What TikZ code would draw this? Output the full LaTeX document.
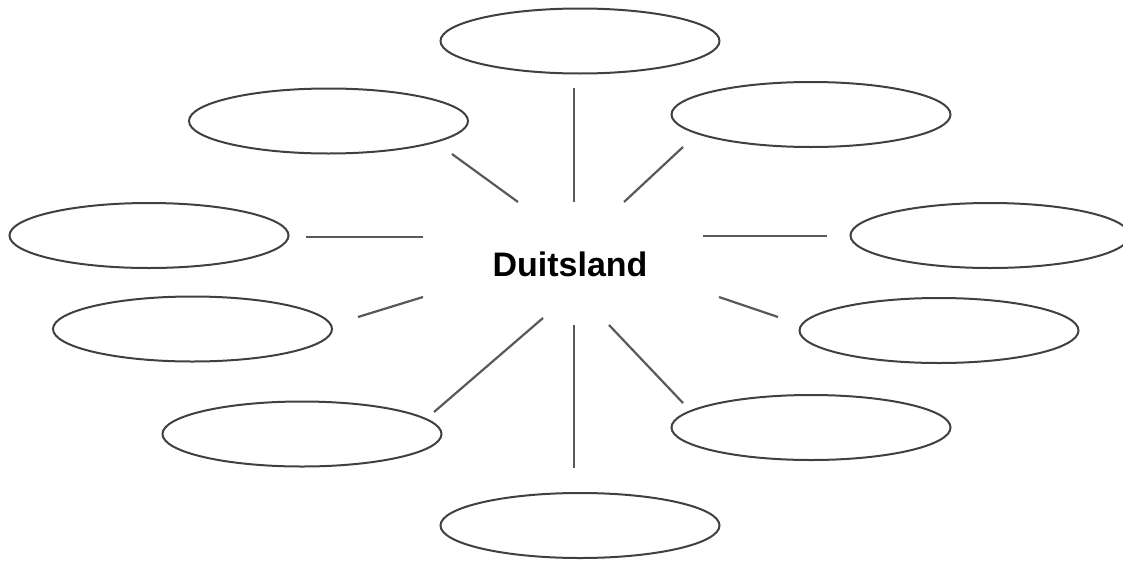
\documentclass[tikz,border=0pt]{standalone}
\usepackage{fontspec}
\setmainfont{Liberation Sans}
\usetikzlibrary{shapes.geometric}
\tikzset{
  bubble/.style={draw=black!75, line width=2pt, ellipse, minimum width=279pt, minimum height=65pt, inner sep=0pt},
  spoke/.style={draw=black!65, line width=2.2pt},
}
\begin{document}
\begin{tikzpicture}[x=1pt,y=-1pt]
\useasboundingbox (0,0) rectangle (1123,562);
% center label
\node[anchor=base, font=\fontsize{34}{40}\selectfont\bfseries] (center) at (570,276) {Duitsland};
% bubbles
\node[bubble] (top) at (580,41) {};
\node[bubble] (ul) at (328.5,121) {};
\node[bubble] (ur) at (811,114.5) {};
\node[bubble] (l) at (149,235.5) {};
\node[bubble] (r) at (990,235.5) {};
\node[bubble] (ml) at (192.5,329) {};
\node[bubble] (mr) at (939,330.5) {};
\node[bubble] (ll) at (302,434) {};
\node[bubble] (lr) at (811,427.5) {};
\node[bubble] (bot) at (580,525.5) {};
% spoke end points
\coordinate (topA) at (574,88);   \coordinate (topB) at (574,202);
\coordinate (ulA) at (452,154);   \coordinate (ulB) at (518,202);
\coordinate (urA) at (683,147);   \coordinate (urB) at (624,202);
\coordinate (lA) at (306,237);    \coordinate (lB) at (423,237);
\coordinate (rA) at (827,236);    \coordinate (rB) at (703,236);
\coordinate (mlA) at (358,317);   \coordinate (mlB) at (423,297);
\coordinate (mrA) at (778,317);   \coordinate (mrB) at (719,297);
\coordinate (llA) at (434,412);   \coordinate (llB) at (543,318);
\coordinate (lrA) at (683,403);   \coordinate (lrB) at (609,325);
\coordinate (botA) at (574,468);  \coordinate (botB) at (574,325);
% spokes
\draw[spoke] (topA) -- (topB);
\draw[spoke] (ulA) -- (ulB);
\draw[spoke] (urA) -- (urB);
\draw[spoke] (lA) -- (lB);
\draw[spoke] (rA) -- (rB);
\draw[spoke] (mlA) -- (mlB);
\draw[spoke] (mrA) -- (mrB);
\draw[spoke] (llA) -- (llB);
\draw[spoke] (lrA) -- (lrB);
\draw[spoke] (botA) -- (botB);
\end{tikzpicture}
\end{document}
